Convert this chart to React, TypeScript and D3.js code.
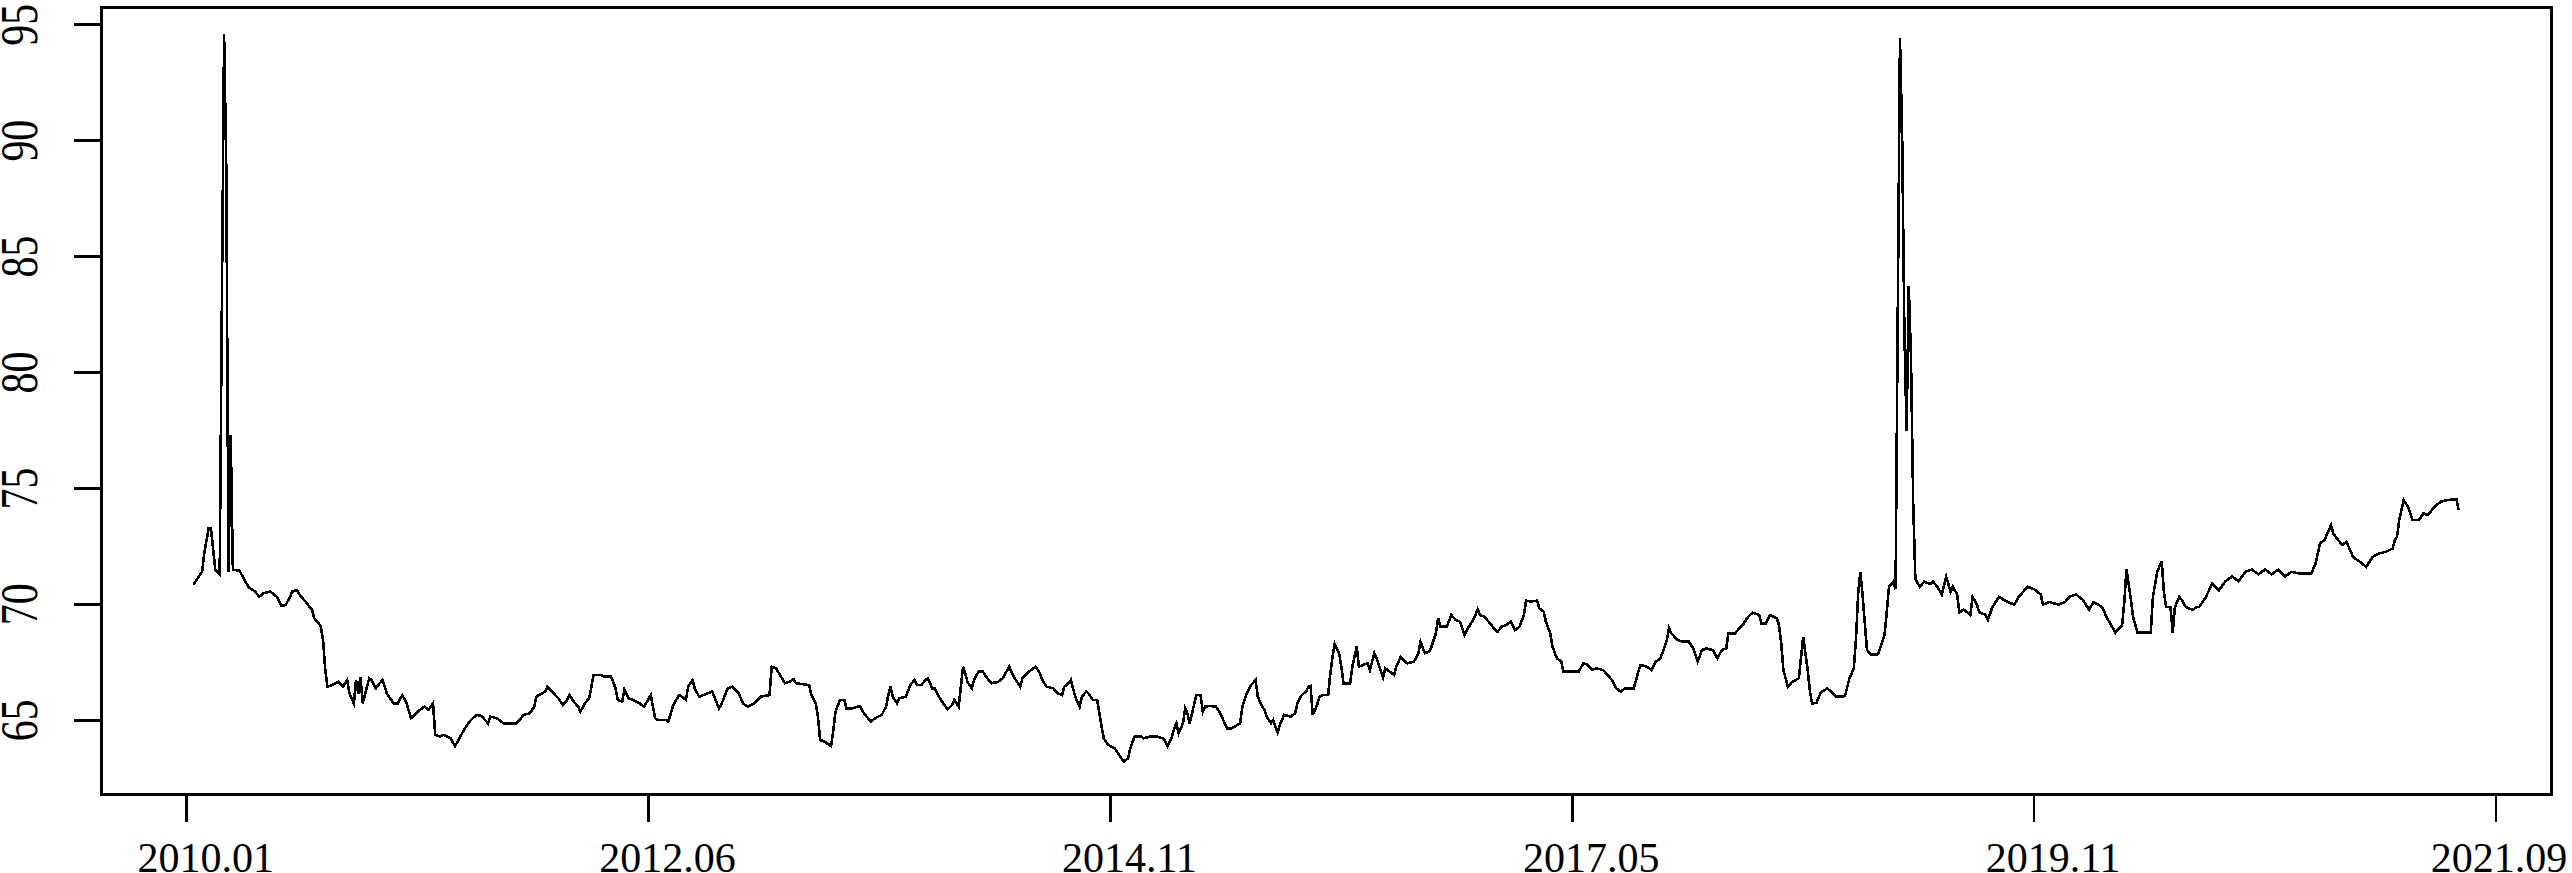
import React, { useEffect } from "react";
import * as d3 from "d3";

// position of each observation in the series (observation number) and its value
const sampleIdx = [
  3, 7, 8, 10, 11, 13, 15, 16, 17, 18, 19, 20, 21, 24, 28, 31, 33, 35, 38, 41, 43, 45, 47, 48, 50, 52, 54, 57, 58, 60,
  61, 62, 63, 64, 66, 69, 71, 73, 74, 76, 77, 78, 79, 80, 83, 84, 86, 89, 91, 93, 94, 96, 98, 100, 102, 103, 105, 108, 110, 112,
  113, 115, 117, 120, 122, 124, 126, 128, 130, 132, 134, 137, 138, 141, 144, 147, 150, 152, 153, 156, 158, 159, 163, 164, 166, 169, 171, 173, 174, 176,
  178, 179, 181, 183, 184, 185, 188, 190, 193, 195, 196, 198, 199, 201, 203, 206, 208, 211, 213, 214, 218, 219, 221, 223, 224, 227, 228, 230, 231, 233,
  235, 239, 242, 243, 246, 248, 251, 253, 255, 258, 261, 265, 266, 268, 272, 274, 276, 277, 283, 284, 286, 287, 288, 290, 293, 294, 295, 297, 299, 300,
  303, 306, 308, 311, 313, 316, 318, 319, 320, 321, 323, 324, 327, 329, 331, 332, 334, 336, 337, 339, 340, 342, 344, 346, 348, 349, 351, 352, 353, 354,
  355, 357, 358, 360, 362, 364, 366, 369, 371, 374, 376, 378, 379, 380, 383, 385, 386, 388, 389, 391, 394, 396, 398, 399, 401, 402, 403, 404, 406, 407,
  409, 410, 412, 414, 415, 416, 417, 419, 422, 424, 426, 428, 429, 431, 434, 435, 438, 441, 444, 445, 446, 448, 449, 450, 451, 453, 454, 455, 456, 458,
  459, 461, 462, 463, 465, 468, 470, 473, 475, 479, 480, 482, 484, 486, 487, 489, 490, 491, 493, 494, 496, 497, 499, 502, 504, 505, 507, 509, 510, 511,
  512, 514, 515, 517, 519, 520, 521, 522, 524, 525, 526, 529, 530, 532, 533, 535, 537, 538, 540, 541, 544, 545, 547, 549, 550, 552, 554, 555, 558, 560,
  561, 563, 565, 566, 568, 569, 570, 573, 575, 577, 579, 581, 583, 585, 587, 588, 590, 592, 595, 596, 598, 600, 602, 604, 606, 608, 609, 611, 614, 615,
  617, 618, 620, 621, 623, 625, 626, 630, 633, 635, 637, 639, 641, 644, 646, 648, 650, 652, 654, 658, 660, 661, 664, 666, 668, 670, 671, 673, 674, 675,
  678, 680, 683, 685, 687, 689, 691, 694, 696, 698, 700, 701, 704, 706, 708, 710, 712, 715, 716, 718, 720, 723, 724, 725, 726, 728, 730, 733, 735, 736,
  737, 738, 739, 741, 743, 746, 748, 750, 753, 754, 756, 758, 759, 760, 761, 762, 763, 764, 766, 769, 771, 772, 773, 774, 776, 777, 778, 779, 780, 781,
  782, 783, 784, 785, 786, 788, 790, 793, 794, 796, 798, 800, 802, 803, 805, 806, 808, 811, 812, 814, 815, 818, 819, 821, 824, 828, 831, 833, 837, 840,
  843, 844, 847, 851, 854, 856, 859, 862, 865, 867, 871, 873, 875, 877, 880, 881, 882, 884, 885, 887, 890, 893, 894, 896, 898, 899, 900, 902, 903, 904,
  906, 907, 909, 912, 914, 915, 918, 921, 924, 927, 930, 933, 936, 939, 942, 945, 948, 951, 954, 957, 961, 966, 968, 969, 970, 972, 975, 976, 980, 982,
  985, 988, 991, 994, 997, 1000, 1003, 1004, 1005, 1006, 1008, 1010, 1012, 1015, 1017, 1019, 1022, 1025, 1028, 1032, 1033,
];

const values = [
  70.84, 71.41, 72.2, 73.3, 73.3, 71.5, 71.3, 83.0, 94.6, 88.8, 71.4, 77.3, 71.5, 71.45, 70.76, 70.55, 70.33, 70.48, 70.55, 70.33, 69.93, 69.97, 70.33, 70.55, 70.62, 70.33, 70.12, 69.76, 69.4, 69.18,
  69.04, 68.46, 67.17, 66.45, 66.52, 66.66, 66.45, 66.74, 66.16, 65.73, 66.74, 66.16, 66.88, 65.73, 66.81, 66.74, 66.38, 66.74, 66.16, 65.88, 65.73, 65.73, 66.09, 65.73, 65.09, 65.16, 65.37, 65.59, 65.45, 65.73,
  64.37, 64.3, 64.37, 64.22, 63.89, 64.22, 64.58, 64.87, 65.09, 65.23, 65.19, 64.87, 65.16, 65.09, 64.87, 64.87, 64.87, 65.09, 65.23, 65.3, 65.59, 66.02, 66.24, 66.45, 66.24, 65.95, 65.66, 65.88, 66.09, 65.8,
  65.59, 65.37, 65.73, 65.95, 66.45, 66.96, 66.96, 66.88, 66.88, 66.38, 65.88, 65.8, 66.31, 65.95, 65.88, 65.73, 65.59, 66.09, 65.09, 65.01, 65.01, 64.94, 65.59, 65.95, 66.09, 65.88, 66.45, 66.74, 66.38, 66.02,
  66.09, 66.24, 65.52, 65.66, 66.38, 66.45, 66.16, 65.73, 65.59, 65.73, 66.02, 66.09, 67.31, 67.24, 66.6, 66.66, 66.77, 66.6, 66.52, 66.09, 65.73, 65.16, 64.15, 64.08, 63.89, 64.58, 65.37, 65.88, 65.88, 65.52,
  65.52, 65.62, 65.3, 64.94, 65.09, 65.23, 65.59, 66.09, 66.45, 66.02, 65.73, 65.95, 66.02, 66.52, 66.74, 66.52, 66.52, 66.74, 66.81, 66.38, 66.38, 66.02, 65.73, 65.47, 65.66, 65.88, 65.59, 66.45, 67.31, 67.03,
  66.66, 66.38, 66.74, 67.1, 67.1, 66.81, 66.6, 66.66, 66.81, 67.31, 66.88, 66.6, 66.45, 66.81, 67.1, 67.24, 67.31, 67.03, 66.74, 66.45, 66.38, 66.16, 66.09, 66.45, 66.6, 66.74, 66.38, 66.02, 65.59, 66.02,
  66.24, 66.16, 65.88, 65.88, 65.3, 64.73, 64.22, 63.94, 63.79, 63.5, 63.22, 63.36, 63.79, 64.3, 64.3, 64.22, 64.3, 64.3, 64.22, 64.08, 63.89, 64.3, 64.65, 64.87, 64.44, 64.87, 65.52, 65.3, 64.87, 65.66,
  66.09, 66.09, 65.37, 65.59, 65.62, 65.59, 65.3, 64.65, 64.65, 64.87, 65.59, 66.16, 66.52, 66.74, 66.02, 65.59, 65.45, 65.16, 64.87, 65.01, 64.47, 64.8, 65.23, 65.16, 65.3, 65.73, 66.09, 66.24, 66.45, 66.48,
  65.23, 65.66, 66.02, 66.09, 66.09, 67.03, 67.74, 68.29, 67.89, 67.31, 66.6, 66.6, 67.31, 68.18, 67.31, 67.39, 67.46, 67.17, 67.89, 67.67, 66.85, 67.24, 67.1, 66.96, 67.31, 67.74, 67.53, 67.46, 67.53, 67.89,
  68.39, 67.89, 67.96, 68.18, 68.75, 69.4, 69.04, 69.04, 69.54, 69.33, 69.25, 68.68, 69.04, 69.33, 69.79, 69.54, 69.47, 69.25, 68.89, 68.82, 69.04, 69.11, 69.25, 68.89, 69.04, 69.54, 70.16, 70.12, 70.16, 69.83,
  69.69, 69.25, 68.75, 68.18, 67.67, 67.53, 67.1, 67.1, 67.1, 67.46, 67.39, 67.17, 67.24, 67.17, 66.96, 66.74, 66.38, 66.24, 66.38, 66.38, 67.1, 67.39, 67.31, 67.17, 67.53, 67.67, 67.89, 68.46, 68.97, 68.75,
  68.46, 68.39, 68.39, 68.1, 67.53, 68.03, 68.1, 68.03, 67.67, 68.03, 68.1, 68.75, 68.75, 68.97, 69.18, 69.47, 69.64, 69.54, 69.18, 69.18, 69.54, 69.4, 69.11, 68.32, 67.17, 66.45, 66.66, 66.81, 68.6, 67.9,
  67.2, 66.3, 65.73, 65.75, 66.2, 66.38, 66.2, 66.02, 66.02, 66.05, 66.8, 67.24, 68.5, 70.5, 71.4, 70.4, 69.2, 68.03, 67.82, 67.85, 68.4, 68.68, 69.7, 70.76, 70.98, 70.65, 82.6, 94.41, 90.12, 81.76,
  77.47, 83.74, 80.66, 74.39, 71.09, 70.76, 70.98, 70.87, 70.98, 70.76, 70.43, 71.2, 70.54, 70.76, 70.43, 69.66, 69.77, 69.55, 70.32, 69.99, 69.66, 69.55, 69.33, 69.88, 70.32, 70.1, 69.99, 70.32, 70.76, 70.65,
  70.43, 69.99, 70.1, 69.99, 70.1, 70.32, 70.43, 70.21, 69.77, 70.1, 69.88, 69.44, 69.11, 68.78, 69.11, 70.1, 71.53, 70.21, 69.44, 68.78, 68.78, 68.78, 70.32, 71.42, 71.86, 70.54, 69.88, 69.88, 68.78, 69.88,
  70.32, 70.21, 69.88, 69.77, 69.88, 69.88, 70.3, 70.9, 70.6, 71.0, 71.2, 71.0, 71.4, 71.5, 71.3, 71.5, 71.3, 71.5, 71.2, 71.4, 71.33, 71.33, 71.77, 72.2, 72.63, 72.77, 73.42, 73.06, 72.56, 72.7,
  72.05, 71.84, 71.62, 72.05, 72.2, 72.27, 72.41, 72.77, 72.92, 73.64, 74.5, 74.21, 73.64, 73.64, 73.92, 73.85, 74.21, 74.43, 74.5, 74.53, 74.07,
];

const xTickIdx = [0, 210, 420, 630, 840, 1050];
const xTickLabels = ["2010.01", "2012.06", "2014.11", "2017.05", "2019.11", "2021.09"];
const yTickValues = [65, 70, 75, 80, 85, 90, 95];

const W = 2572;
const H = 873;
const box = { left: 101.5, right: 2551, top: 7.5, bottom: 794.2 };
const FONT = "'Liberation Serif', 'Times New Roman', serif";
const LABEL_HALF = 69;

export default function App() {
  useEffect(() => {
    document.body.style.margin = "0";
  }, []);

  const x = d3.scaleLinear().domain([0, 1050]).range([186.7, 2496.0]);
  const y = d3.scaleLinear().domain([65, 95]).range([720.3, 24.7]);

  const pts = sampleIdx.map((i, k) => [i, values[k]] as [number, number]);
  const line = d3
    .line<[number, number]>()
    .x((d) => x(d[0]))
    .y((d) => y(d[1]));

  return (
    <svg
      width={W}
      height={H}
      viewBox={`0 0 ${W} ${H}`}
      style={{ position: "absolute", left: 0, top: 0, display: "block", background: "#fff" }}
    >
      <rect x={0} y={0} width={W} height={H} fill="#fff" />
      <path
        d={line(pts) || ""}
        fill="none"
        stroke="#000"
        strokeWidth={2.6}
        strokeLinejoin="miter"
        shapeRendering="crispEdges"
      />
      <rect
        x={box.left}
        y={box.top}
        width={box.right - box.left}
        height={box.bottom - box.top}
        fill="none"
        stroke="#000"
        strokeWidth={3}
        shapeRendering="crispEdges"
      />
      {yTickValues.map((v) => (
        <g key={"y" + v}>
          <line
            x1={74}
            x2={box.left}
            y1={y(v)}
            y2={y(v)}
            stroke="#000"
            strokeWidth={2.6}
            shapeRendering="crispEdges"
          />
          <text
            transform={`translate(36.7, ${y(v)}) rotate(-90) scale(1, 1.24)`}
            textAnchor="middle"
            fontFamily={FONT}
            fontSize={42}
            fill="#000"
          >
            {v}
          </text>
        </g>
      ))}
      {xTickIdx.map((t, k) => (
        <g key={"x" + t}>
          <line
            x1={x(t)}
            x2={x(t)}
            y1={box.bottom}
            y2={822}
            stroke="#000"
            strokeWidth={2.6}
            shapeRendering="crispEdges"
          />
          <text
            x={Math.min(x(t) + 19, W - 4 - LABEL_HALF)}
            y={871.5}
            textAnchor="middle"
            fontFamily={FONT}
            fontSize={42}
            fill="#000"
          >
            {xTickLabels[k]}
          </text>
        </g>
      ))}
    </svg>
  );
}
